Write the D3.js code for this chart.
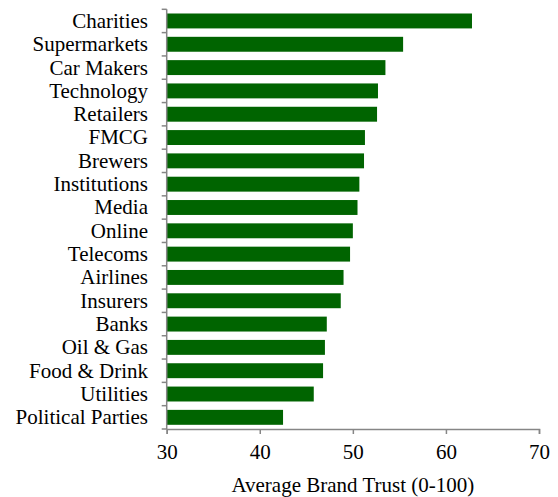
<!DOCTYPE html>
<html><head><meta charset="utf-8">
<script src="https://cdn.jsdelivr.net/npm/d3@7"></script>
<style>body{margin:0;background:#fff} svg text{font-family:"Liberation Serif","DejaVu Serif","Times New Roman",serif;}</style>
</head><body>
<script>
const categories = ["Charities","Supermarkets","Car Makers","Technology","Retailers","FMCG","Brewers","Institutions","Media","Online","Telecoms","Airlines","Insurers","Banks","Oil & Gas","Food & Drink","Utilities","Political Parties"];
const values = [62.8,55.4,53.5,52.7,52.6,51.3,51.2,50.7,50.5,50.0,49.7,49.0,48.7,47.2,47.0,46.8,45.8,42.5];
const xTicks = [30,40,50,60,70];
const xTitle = "Average Brand Trust (0-100)";

const W = 558, H = 497;
const m = {left:166.7, right:19, top:9.3, bottom:68};
const svg = d3.select("body").append("svg").attr("width",W).attr("height",H);
const x = d3.scaleLinear().domain([30,70]).range([m.left, W-m.right]);
const y = d3.scaleBand().domain(categories).range([m.top, H-m.bottom]).paddingInner(0.36).paddingOuter(0.18);
const fs = 21;

svg.append("g").selectAll("rect").data(categories).join("rect")
  .attr("x", x(30)).attr("y", d=>y(d))
  .attr("width", (d,i)=>x(values[i])-x(30)).attr("height", y.bandwidth())
  .attr("fill","#006400");

const axisColor = "#868686";
const yg = svg.append("g");
yg.append("line").attr("x1",m.left).attr("x2",m.left).attr("y1",m.top).attr("y2",H-m.bottom)
  .attr("stroke",axisColor).attr("stroke-width",1.5);
const bounds = d3.range(categories.length+1).map(i=>y.range()[0]+i*(y.range()[1]-y.range()[0])/categories.length);
yg.selectAll("line.t").data(bounds).join("line").attr("class","t")
  .attr("x1",m.left-5).attr("x2",m.left).attr("y1",d=>d).attr("y2",d=>d)
  .attr("stroke",axisColor).attr("stroke-width",1.5);
yg.selectAll("text").data(categories).join("text")
  .attr("x",148).attr("y",d=>y(d)+y.bandwidth()/2).attr("dy","0.33em")
  .attr("text-anchor","end").attr("font-size",fs).attr("fill","#000")
  .text(d=>d);

const xa = d3.axisBottom(x).tickValues(xTicks).tickSize(5).tickPadding(10);
const xg = svg.append("g").attr("transform",`translate(0,${H-m.bottom})`).call(xa);
xg.attr("font-family",null);
xg.select(".domain").attr("stroke",axisColor).attr("stroke-width",1.5);
xg.selectAll(".tick line").attr("stroke",axisColor).attr("stroke-width",1.5);
xg.selectAll(".tick text").attr("font-size",fs).attr("fill","#000");

svg.append("text").attr("x",(m.left+W-m.right)/2).attr("y",491.5)
  .attr("text-anchor","middle").attr("font-size",fs).attr("fill","#000")
  .text(xTitle);
</script>
</body></html>
